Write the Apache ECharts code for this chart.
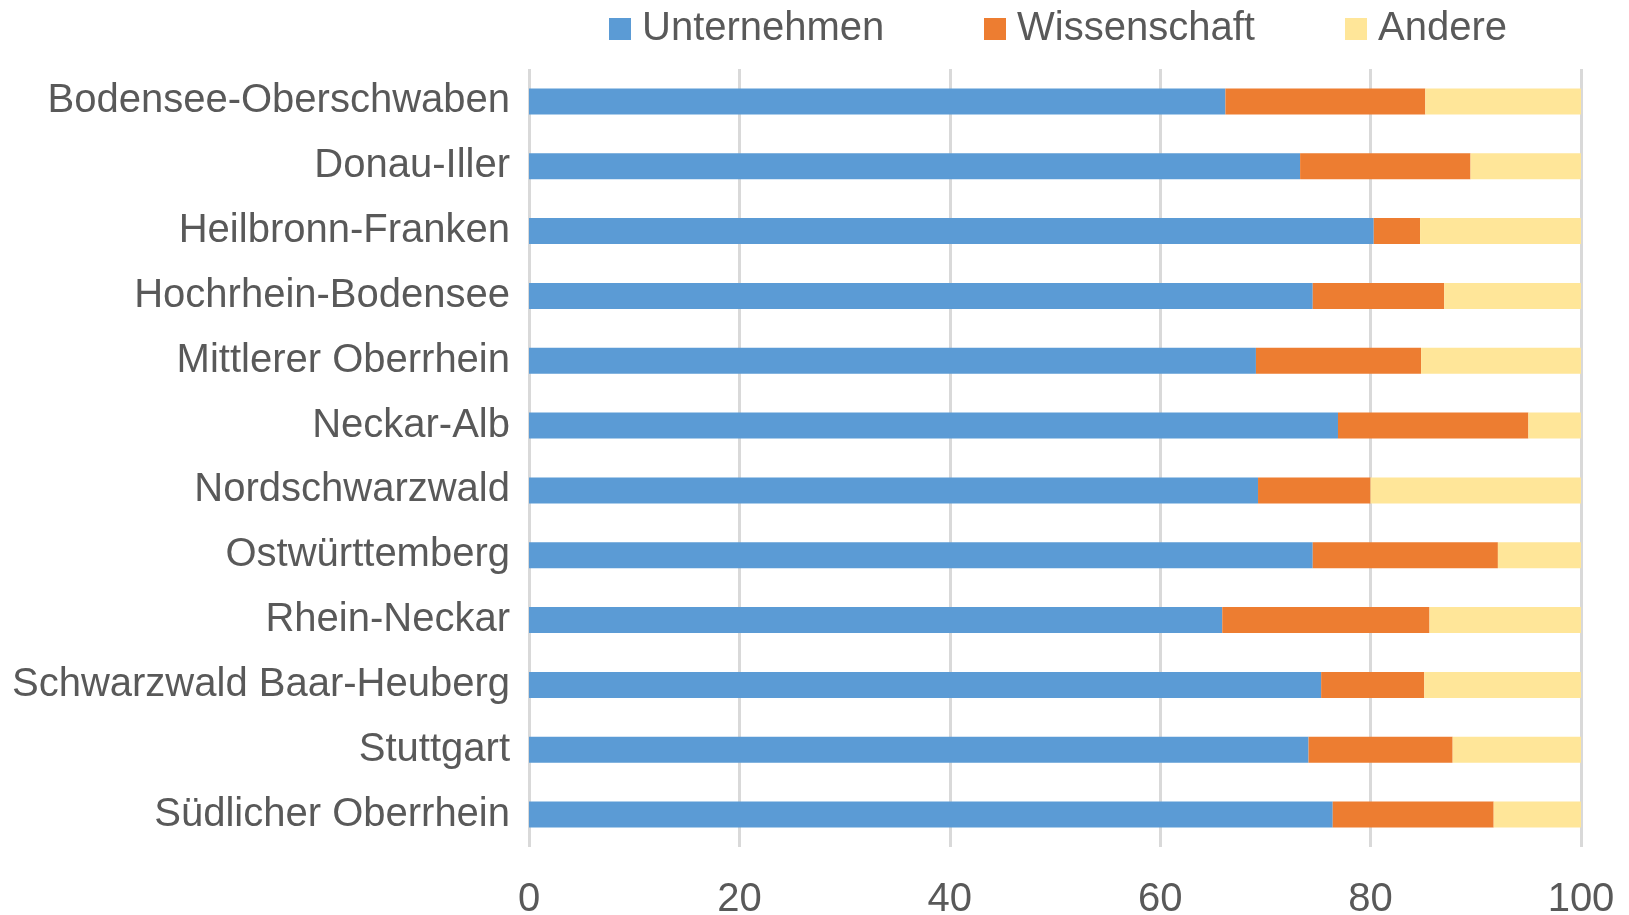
<!DOCTYPE html>
<html>
<head>
<meta charset="utf-8">
<script src="https://cdn.jsdelivr.net/npm/echarts@6/dist/echarts.min.js"></script>
<style>
html,body{margin:0;padding:0;background:#fff;}
#chart{width:1629px;height:915px;}
</style>
</head>
<body>
<div id="chart"></div>
<script>
var categories = [
  "Bodensee-Oberschwaben",
  "Donau-Iller",
  "Heilbronn-Franken",
  "Hochrhein-Bodensee",
  "Mittlerer Oberrhein",
  "Neckar-Alb",
  "Nordschwarzwald",
  "Ostwürttemberg",
  "Rhein-Neckar",
  "Schwarzwald Baar-Heuberg",
  "Stuttgart",
  "Südlicher Oberrhein"
];
var unternehmen = [66.2, 73.3, 80.3, 74.5, 69.1, 76.9, 69.3, 74.5, 65.9, 75.3, 74.1, 76.4];
var wissenschaft = [19.0, 16.2, 4.4, 12.5, 15.7, 18.1, 10.7, 17.6, 19.7, 9.8, 13.7, 15.3];
var andere = [14.8, 10.5, 15.3, 13.0, 15.2, 5.0, 20.0, 7.9, 14.4, 14.9, 12.2, 8.3];
var seriesNames = ["Unternehmen", "Wissenschaft", "Andere"];
var xTicks = [0, 20, 40, 60, 80, 100];

var colors = ["#5B9BD5", "#ED7D31", "#FFE699"];
var font = "'Liberation Sans', Arial, sans-serif";
var textColor = "#595959";

var chart = echarts.init(document.getElementById('chart'));
var legendLefts = [604, 979, 1340];
var legends = seriesNames.map(function (n, i) {
  return {
    data: [n],
    left: legendLefts[i],
    top: 4,
    itemWidth: 22,
    itemHeight: 22,
    icon: 'rect',
    selectedMode: false,
    textStyle: { fontSize: 40, color: textColor, fontFamily: font, padding: [0, 0, 0, 6] }
  };
});
var dataSets = [unternehmen, wissenschaft, andere];
chart.setOption({
  animation: false,
  color: colors,
  legend: legends,
  grid: { left: 529, right: 48, top: 69, bottom: 68, containLabel: false, outerBoundsMode: 'none' },
  xAxis: {
    type: 'value',
    min: xTicks[0],
    max: xTicks[xTicks.length - 1],
    interval: xTicks[1] - xTicks[0],
    axisLine: { show: false },
    axisTick: { show: false },
    splitLine: { show: true, lineStyle: { color: '#d9d9d9', width: 3 } },
    axisLabel: { fontSize: 40, color: textColor, fontFamily: font, margin: 33 }
  },
  yAxis: {
    type: 'category',
    data: categories,
    inverse: true,
    axisLine: { show: false },
    axisTick: { show: false },
    splitLine: { show: false },
    axisLabel: { fontSize: 40, color: textColor, fontFamily: font, margin: 19, padding: [9, 0, 0, 0] }
  },
  series: seriesNames.map(function (n, i) {
    return {
      name: n,
      type: 'bar',
      stack: 'total',
      barWidth: 26,
      data: dataSets[i],
      itemStyle: { color: colors[i] }
    };
  })
});
</script>
</body>
</html>
